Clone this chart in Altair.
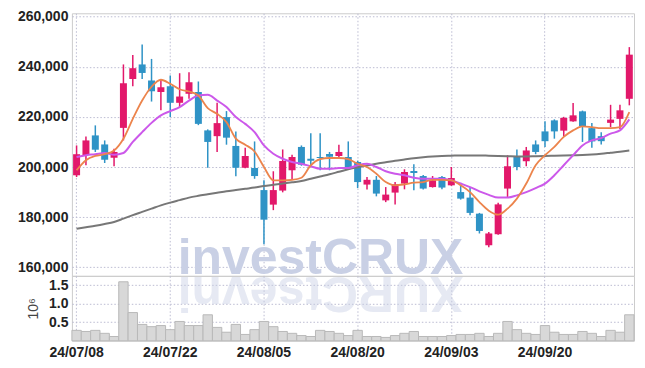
import altair as alt
import pandas as pd

dates = [
    "24/07/08", "24/07/09", "24/07/10", "24/07/11", "24/07/12",
    "24/07/15", "24/07/16", "24/07/17", "24/07/18", "24/07/19",
    "24/07/22", "24/07/23", "24/07/24", "24/07/25", "24/07/26",
    "24/07/29", "24/07/30", "24/07/31", "24/08/01", "24/08/02",
    "24/08/05", "24/08/06", "24/08/07", "24/08/08", "24/08/09",
    "24/08/12", "24/08/13", "24/08/14", "24/08/16", "24/08/19",
    "24/08/20", "24/08/21", "24/08/22", "24/08/23", "24/08/26",
    "24/08/27", "24/08/28", "24/08/29", "24/08/30", "24/09/02",
    "24/09/03", "24/09/04", "24/09/05", "24/09/06", "24/09/09",
    "24/09/10", "24/09/11", "24/09/12", "24/09/13", "24/09/19",
    "24/09/20", "24/09/23", "24/09/24", "24/09/25", "24/09/26",
    "24/09/27", "24/09/30", "24/10/02", "24/10/04", "24/10/07",
]

opens = [196700, 204700, 212600, 209000, 203700, 215600, 235100, 240900, 234500, 229900,
         232200, 225600, 229200, 229900, 214600, 212300, 219900, 208400, 199700, 199600,
         190800, 185000, 190600, 198700, 208000, 203300, 204000, 205200, 204400, 204000,
         202000, 193000, 194900, 186700, 189800, 193400, 198400, 196400, 192000, 196000,
         192700, 190000, 187800, 181400, 168800, 173200, 191400, 204000, 202300, 209000,
         214200, 218600, 214500, 218200, 222200, 215500, 212300, 217600, 219200, 227200]
closes = [205100, 210600, 206900, 202900, 206000, 233400, 239400, 237500, 230200, 231800,
          225600, 228100, 233800, 217200, 210000, 217500, 211700, 199700, 204400, 196400,
          179000, 190800, 202400, 204000, 200900, 202500, 203600, 204100, 206000, 200000,
          194000, 194900, 189400, 189000, 193100, 198000, 197600, 191400, 194700, 191800,
          195600, 187400, 181700, 174500, 173500, 185100, 200300, 200000, 206600, 206000,
          210300, 214200, 219600, 220600, 216200, 210200, 210300, 218900, 222600, 244800]
highs = [208600, 212200, 216600, 210600, 207300, 240900, 244700, 248800, 243100, 235100,
         236500, 237400, 237800, 234100, 215000, 225600, 222300, 214200, 207700, 210200,
         194700, 198300, 207000, 204900, 208600, 213500, 213500, 206000, 208900, 210200,
         202500, 196000, 196400, 192000, 194000, 199100, 201100, 196800, 196400, 196400,
         200000, 192700, 192000, 181700, 174100, 185700, 204700, 207000, 208000, 210600,
         218200, 219000, 220000, 225500, 222500, 217500, 213900, 224800, 224800, 247800]
lows = [196000, 200700, 206000, 201600, 200300, 210600, 232200, 235100, 226100, 222600,
        219900, 223900, 227200, 216700, 199700, 206000, 208900, 196300, 199500, 195300,
        169200, 182800, 189900, 194900, 200500, 200300, 198700, 198700, 203300, 199500,
        191600, 191000, 188300, 186000, 185100, 191100, 190700, 191000, 191800, 191100,
        192500, 187000, 180800, 173500, 168000, 173000, 187800, 198700, 200300, 205100,
        208000, 211300, 212200, 218000, 210000, 207700, 209000, 215900, 215200, 224600]

ma5 = [198700, 202700, 204400, 205100, 206600, 211300, 219200, 226500, 232000, 234800,
       233200, 231000, 230100, 228500, 223500, 221200, 217900, 211300, 208900, 206200,
       200000, 194700, 194700, 194900, 195700, 200700, 203100, 203600, 203600, 203100,
       201300, 200000, 197300, 194000, 192700, 193100, 193800, 194000, 194900, 194900,
       194700, 192700, 190000, 186000, 182600, 181000, 183400, 187400, 193400, 200700,
       204700, 208000, 212000, 214600, 216200, 215900, 215500, 215500, 215900, 221900]
ma20 = [204000, 204700, 205100, 205600, 204900, 205600, 210000, 213900, 217600, 220600,
        222300, 223900, 226500, 228500, 228800, 226500, 223900, 219900, 217200, 213900,
        208600, 205300, 203300, 202000, 201300, 200300, 199300, 199300, 199600, 199600,
        200700, 201300, 200000, 198300, 197300, 196700, 195700, 195300, 195300, 195300,
        194700, 193400, 192000, 190300, 188900, 187800, 187800, 188700, 190000, 191600,
        193400, 196700, 200700, 204700, 208600, 210600, 211500, 213300, 214600, 219000]
ma60 = [175400, 176000, 176600, 177300, 178100, 179400, 180800, 182100, 183400, 184700,
        185800, 186800, 187800, 188500, 189100, 189700, 190300, 190800, 191300, 191800,
        192400, 192900, 193400, 193900, 194400, 195300, 196200, 197100, 198100, 199100,
        199900, 200600, 201300, 201900, 202500, 203000, 203500, 203900, 204200, 204400,
        204500, 204600, 204600, 204600, 204500, 204400, 204300, 204200, 204200, 204300,
        204400, 204500, 204600, 204700, 204800, 205000, 205300, 205700, 206100, 206600]
volume_m = [0.28, 0.25, 0.28, 0.20, 0.115, 1.59, 0.76, 0.44, 0.38, 0.41,
            0.30, 0.52, 0.41, 0.41, 0.70, 0.36, 0.23, 0.44, 0.17, 0.30,
            0.52, 0.38, 0.25, 0.20, 0.14, 0.115, 0.28, 0.25, 0.20, 0.14,
            0.28, 0.115, 0.115, 0.09, 0.14, 0.20, 0.25, 0.115, 0.115, 0.115,
            0.14, 0.17, 0.17, 0.20, 0.115, 0.20, 0.52, 0.30, 0.20, 0.17,
            0.41, 0.23, 0.17, 0.17, 0.25, 0.20, 0.115, 0.28, 0.23, 0.70]

price_ticks = [160000, 180000, 200000, 220000, 240000, 260000]
vol_ticks = [0.5, 1.0, 1.5]
date_ticks = dates[::10]
watermark = "investCRUX"

RED = "#e2186a"
BLUE = "#2f93c6"
WM = "#c9d0e5"
FONT = "Liberation Sans"
W = 563

df = pd.DataFrame({
    "date": dates, "open": opens, "close": closes, "high": highs, "low": lows,
    "ma5": ma5, "ma20": ma20, "ma60": ma60, "vol": volume_m,
})
df["dir"] = ["up" if c >= o else "down" for o, c in zip(opens, closes)]

xscale = alt.Scale(type="band", domain=dates, paddingInner=0, paddingOuter=0)
color = alt.Color("dir:N", scale=alt.Scale(domain=["up", "down"], range=[RED, BLUE]), legend=None)
pscale = alt.Scale(domain=[156600, 261300], nice=False, zero=False)

x_top = alt.X("date:O", scale=xscale,
              axis=alt.Axis(values=date_ticks, labels=False, ticks=False, domain=False,
                            title=None, grid=True))

base = alt.Chart(df)
wm_df = pd.DataFrame({"t": [watermark], "rev": [watermark[::-1]]})

wm = alt.Chart(wm_df).mark_text(
    font=FONT, fontWeight="bold", fontSize=50,
    color=WM, align="center", baseline="alphabetic"
).encode(x=alt.value(249), y=alt.value(261), text="t:N")

wicks = base.mark_rule(strokeWidth=1.5).encode(
    x=x_top,
    y=alt.Y("low:Q", scale=pscale,
            axis=alt.Axis(values=price_ticks, format=",d", title=None, domain=False,
                          ticks=False, grid=True)),
    y2="high:Q",
    color=color,
)
bodies = base.mark_bar(size=7).encode(
    x=x_top, y=alt.Y("open:Q", scale=pscale), y2="close:Q", color=color
)
line60 = base.mark_line(color="#777777", strokeWidth=2, interpolate="monotone").encode(
    x=x_top, y=alt.Y("ma60:Q", scale=pscale))
line20 = base.mark_line(color="#cc58ea", strokeWidth=2, interpolate="monotone").encode(
    x=x_top, y=alt.Y("ma20:Q", scale=pscale))
line5 = base.mark_line(color="#ec844c", strokeWidth=1.8, interpolate="monotone").encode(
    x=x_top, y=alt.Y("ma5:Q", scale=pscale))

price = alt.layer(wm, wicks, bodies, line60, line20, line5).properties(width=W, height=263)

rf = alt.Chart(wm_df).mark_text(
    font=FONT, fontWeight="bold", fontSize=50,
    color=WM, opacity=0.45, align="center", baseline="alphabetic", angle=180
).encode(x=alt.value(249), y=alt.value(1), text="rev:N")

vbars = base.mark_bar(fill="#d8d8d8", stroke="#b9b9b9", strokeWidth=1).encode(
    x=alt.X("date:O", scale=xscale,
            axis=alt.Axis(values=date_ticks, labelAngle=0, ticks=False, domain=False,
                          title=None, grid=True, labelPadding=5)),
    y=alt.Y("vol:Q", scale=alt.Scale(domain=[0, 1.75], nice=False),
            axis=alt.Axis(values=vol_ticks, format=".1f", title="10⁶", domain=False,
                          ticks=False, grid=True, titleFontWeight="normal",
                          titleFontSize=14, titleColor="#444", titleFont=FONT,
                          titlePadding=8)),
)
volume = alt.layer(rf, vbars).properties(width=W, height=65)

chart = alt.vconcat(price, volume, spacing=0, bounds="flush").properties(
    padding={"left": 8, "top": 0, "right": 2, "bottom": 0}
).configure_view(stroke="#cccccc").configure_axis(
    labelFont=FONT, labelFontWeight="bold", labelFontSize=14, labelColor="#222",
    labelPadding=4, gridColor="#bcbcd2", gridDash=[1.5, 2], gridWidth=1
)

chart.save("out.html", embed_options={"renderer": "svg", "actions": False})
